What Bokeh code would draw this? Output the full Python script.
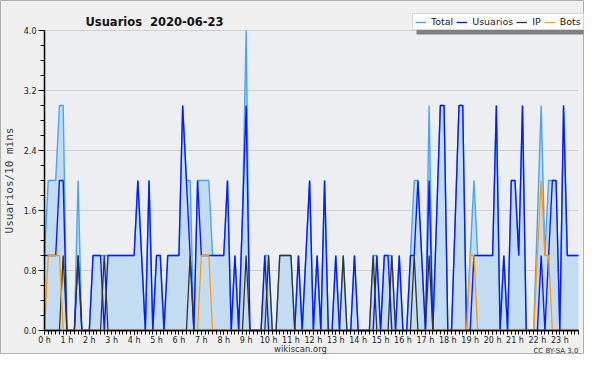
from bokeh.plotting import figure
from bokeh.models import (FixedTicker, Legend, LegendItem, Label, BoxAnnotation,
                          ColumnDataSource, Range1d, PrintfTickFormatter)
from bokeh.embed import file_html
from bokeh.resources import INLINE

title_text = "Usuarios\u00a0 2020-06-23"
y_label = "Usuarios/10 mins"
hours = list(range(24))
hour_labels = [f"{h} h" for h in hours]
y_ticks = [0.0, 0.8, 1.6, 2.4, 3.2, 4.0]

# one value per 10-minute slot (144 slots)
usuarios = [1, 1, 1, 1, 2, 2, 0, 0, 0, 1,
            0, 0, 0, 1, 1, 1, 0, 1, 1, 1,
            1, 1, 1, 1, 1, 2, 1, 0, 2, 0,
            1, 1, 0, 1, 1, 1, 1, 3, 2, 1,
            0, 2, 1, 1, 1, 1, 1, 1, 1, 2,
            0, 1, 0, 1.5, 3, 0, 0, 0, 0, 1,
            0, 0, 0, 0, 0, 0, 0, 0, 1, 0,
            1, 2, 0, 1, 0, 2, 0, 0, 1, 0,
            0, 0, 0, 1, 0, 0, 0, 0, 0, 1,
            0, 1, 1, 0, 0, 1, 0, 0, 1, 1,
            2, 1, 0, 2, 0, 1.5, 3, 3, 0, 0,
            1.5, 3, 3, 0, 0, 1, 1, 1, 1, 1,
            1, 3, 0, 1, 0, 2, 2, 1, 3, 0,
            0, 0, 0, 1, 0, 1, 2, 2, 0, 3,
            1, 1, 1, 1]
ip = [0, 0, 0, 0, 0, 1, 0, 0, 0, 1,
      0, 0, 0, 0, 0, 0, 1, 0, 0, 0,
      0, 0, 0, 0, 0, 0, 0, 0, 0, 0,
      0, 0, 0, 0, 0, 0, 0, 0, 0, 1,
      0, 0, 0, 0, 0, 0, 0, 0, 0, 0,
      0, 0, 0, 0, 1, 0, 0, 0, 0, 0,
      1, 0, 0, 1, 1, 1, 1, 0, 0, 0,
      0, 0, 0, 0, 0, 0, 0, 0, 0, 0,
      1, 0, 0, 0, 0, 0, 0, 0, 1, 0,
      0, 0, 0, 1, 0, 0, 0, 0, 0, 1,
      0, 0, 0, 1, 0, 0, 0, 0, 0, 0,
      0, 0, 0, 0, 0, 0, 0, 0, 0, 0,
      0, 0, 0, 0, 0, 0, 0, 0, 0, 0,
      0, 0, 0, 0, 0, 0, 0, 0, 0, 0,
      0, 0, 0, 0]
bots = [0, 1, 1, 1, 1, 0, 0, 0, 0, 0,
        0, 0, 0, 0, 0, 0, 0, 0, 0, 0,
        0, 0, 0, 0, 0, 0, 0, 0, 0, 0,
        0, 0, 0, 0, 0, 0, 0, 0, 0, 0,
        0, 0, 1, 1, 1, 0, 0, 0, 0, 0,
        0, 0, 0, 0, 0, 0, 0, 0, 0, 0,
        0, 0, 0, 0, 0, 0, 0, 0, 0, 0,
        0, 0, 0, 0, 0, 0, 0, 0, 0, 0,
        0, 0, 0, 0, 0, 0, 0, 0, 0, 0,
        0, 0, 0, 0, 0, 0, 0, 0, 0, 0,
        0, 0, 0, 0, 0, 0, 0, 0, 0, 0,
        0, 0, 0, 0, 1, 1, 0, 0, 0, 0,
        0, 0, 0, 0, 0, 0, 0, 0, 0, 0,
        0, 0, 1, 2, 1, 1, 0, 0, 0, 0,
        0, 0, 0, 0]
total = [1, 2, 2, 2, 3, 3, 0, 0, 0, 2,
         0, 0, 0, 1, 1, 1, 1, 1, 1, 1,
         1, 1, 1, 1, 1, 2, 1, 0, 2, 0,
         1, 1, 0, 1, 1, 1, 1, 3, 2, 2,
         0, 2, 2, 2, 2, 1, 1, 1, 1, 2,
         0, 1, 0, 1.5, 4, 0, 0, 0, 0, 1,
         1, 0, 0, 1, 1, 1, 1, 0, 1, 0,
         1, 2, 0, 1, 0, 2, 0, 0, 1, 0,
         1, 0, 0, 1, 0, 0, 0, 0, 1, 1,
         0, 1, 1, 1, 0, 1, 0, 0, 1, 2,
         2, 1, 0, 3, 0, 1.5, 3, 3, 0, 0,
         1.5, 3, 3, 0, 1, 2, 1, 1, 1, 1,
         1, 3, 0, 1, 0, 2, 2, 1, 3, 0,
         0, 0, 1.5, 3, 1, 2, 2, 2, 0, 3,
         1, 1, 1, 1]

slot_hours = [i / 6 for i in range(len(total))]
x_end = slot_hours[-1]

src = ColumnDataSource(dict(x=slot_hours, total=total, usuarios=usuarios,
                            ip=ip, bots=bots, zero=[0] * len(total)))
grid_src = ColumnDataSource(dict(y=y_ticks[1:], x0=[0] * 5, x1=[x_end] * 5))

FONT = "DejaVu Sans"
W, H = 584, 354
PX_L, PX_R = 44, 578          # pixel columns of x=0 and x=x_end
PY_T, PY_B = 30, 330          # pixel rows of y=4 and y=0
ppx = (PX_R - PX_L) / x_end
ppy = (PY_B - PY_T) / 4.0
x_lo, x_hi = -PX_L / ppx, x_end + (W - PX_R) / ppx
y_lo, y_hi = -(H - PY_B) / ppy, 4.0 + PY_T / ppy

p = figure(width=W, height=H, output_backend="svg", toolbar_location=None,
           x_range=Range1d(x_lo, x_hi), y_range=Range1d(y_lo, y_hi),
           min_border_left=0, min_border_right=0, min_border_top=0,
           min_border_bottom=0)
p.background_fill_color = "#f0f0f0"
p.border_fill_color = "#f0f0f0"
p.outline_line_color = "#b0b0b0"
p.outline_line_width = 1

# plot-area background (0..4)
p.add_layout(BoxAnnotation(left=0, right=x_end, bottom=0, top=4,
                           fill_color="#eceef1", fill_alpha=1,
                           line_color=None, level="image"))
p.xgrid.visible = False
p.ygrid.visible = False
p.segment(x0="x0", x1="x1", y0="y", y1="y", source=grid_src,
          line_color="#cfcfcf", line_width=1, level="underlay")

p.varea(x="x", y1="zero", y2="total", source=src, fill_color="#c4dcf1")
r_total = p.line("x", "total", source=src, line_color="#4aa3f5", line_width=1.4)
r_usu = p.line("x", "usuarios", source=src, line_color="#0a1aff", line_width=1.4)
r_ip = p.line("x", "ip", source=src, line_color="#333333", line_width=1.3)
r_bots = p.line("x", "bots", source=src, line_color="#ff9a10", line_width=1.3)

# axes (fixed inside the frame)
p.xaxis.fixed_location = 0
p.yaxis.fixed_location = 0
p.xaxis.bounds = (0, x_end)
p.yaxis.bounds = (0, 4)
p.xaxis.ticker = FixedTicker(ticks=hours, minor_ticks=slot_hours)
p.xaxis.major_label_overrides = {h: lab for h, lab in zip(hours, hour_labels)}
p.yaxis.ticker = FixedTicker(ticks=y_ticks, minor_ticks=[v / 5 for v in range(21)])
p.yaxis.formatter = PrintfTickFormatter(format="%.1f")
for ax in (p.xaxis, p.yaxis):
    ax.axis_line_color = "black"
    ax.axis_line_width = 1.5
    ax.major_tick_line_color = "black"
    ax.minor_tick_line_color = "black"
    ax.major_tick_in = 0
    ax.minor_tick_in = 0
    ax.major_label_text_font = FONT
    ax.major_label_text_font_size = "8px"
    ax.major_label_text_color = "#222222"
p.xaxis.major_label_standoff = 1
p.yaxis.major_label_standoff = 2
p.xaxis.major_tick_out = 4
p.xaxis.minor_tick_out = 4
p.yaxis.major_tick_out = 6
p.yaxis.minor_tick_out = 4
p.yaxis.axis_label = y_label
p.yaxis.axis_label_text_font = "DejaVu Sans Mono"
p.yaxis.axis_label_text_font_style = "normal"
p.yaxis.axis_label_text_font_size = "11px"
p.yaxis.axis_label_standoff = 5

# title
p.add_layout(Label(x=85, y=H - 21, x_units="screen", y_units="screen",
                   text=title_text, text_font=FONT, text_font_style="bold",
                   text_font_size="11.5px", text_color="#111111",
                   text_baseline="alphabetic"))

# legend shadow + legend
p.add_layout(BoxAnnotation(left=416, right=583, top=H - 19, bottom=H - 34,
                           left_units="screen", right_units="screen",
                           top_units="screen", bottom_units="screen",
                           fill_color="#808080", fill_alpha=1, line_color=None))
legend = Legend(items=[LegendItem(label="Total", renderers=[r_total]),
                       LegendItem(label="Usuarios", renderers=[r_usu]),
                       LegendItem(label="IP", renderers=[r_ip]),
                       LegendItem(label="Bots", renderers=[r_bots])],
                orientation="horizontal", location=(412, H - 30),
                label_text_font=FONT, label_text_font_size="9.5px",
                label_text_color="#222222",
                glyph_width=11, glyph_height=10, label_height=10,
                label_width=4, label_standoff=5, spacing=3, padding=2,
                margin=0, border_line_color="#b0b0b0",
                background_fill_color="white", background_fill_alpha=1)
p.add_layout(legend, "center")

# footer
p.add_layout(Label(x=300, y=5.5, x_units="screen", y_units="screen",
                   text="wikiscan.org", text_font=FONT, text_font_size="8.5px",
                   text_color="#333333", text_align="center",
                   text_baseline="alphabetic"))
p.add_layout(Label(x=PX_R, y=4, x_units="screen", y_units="screen",
                   text="CC BY-SA 3.0", text_font=FONT, text_font_size="7px",
                   text_color="#333333", text_align="right",
                   text_baseline="alphabetic"))

open("out.html", "w").write(file_html(p, INLINE))
